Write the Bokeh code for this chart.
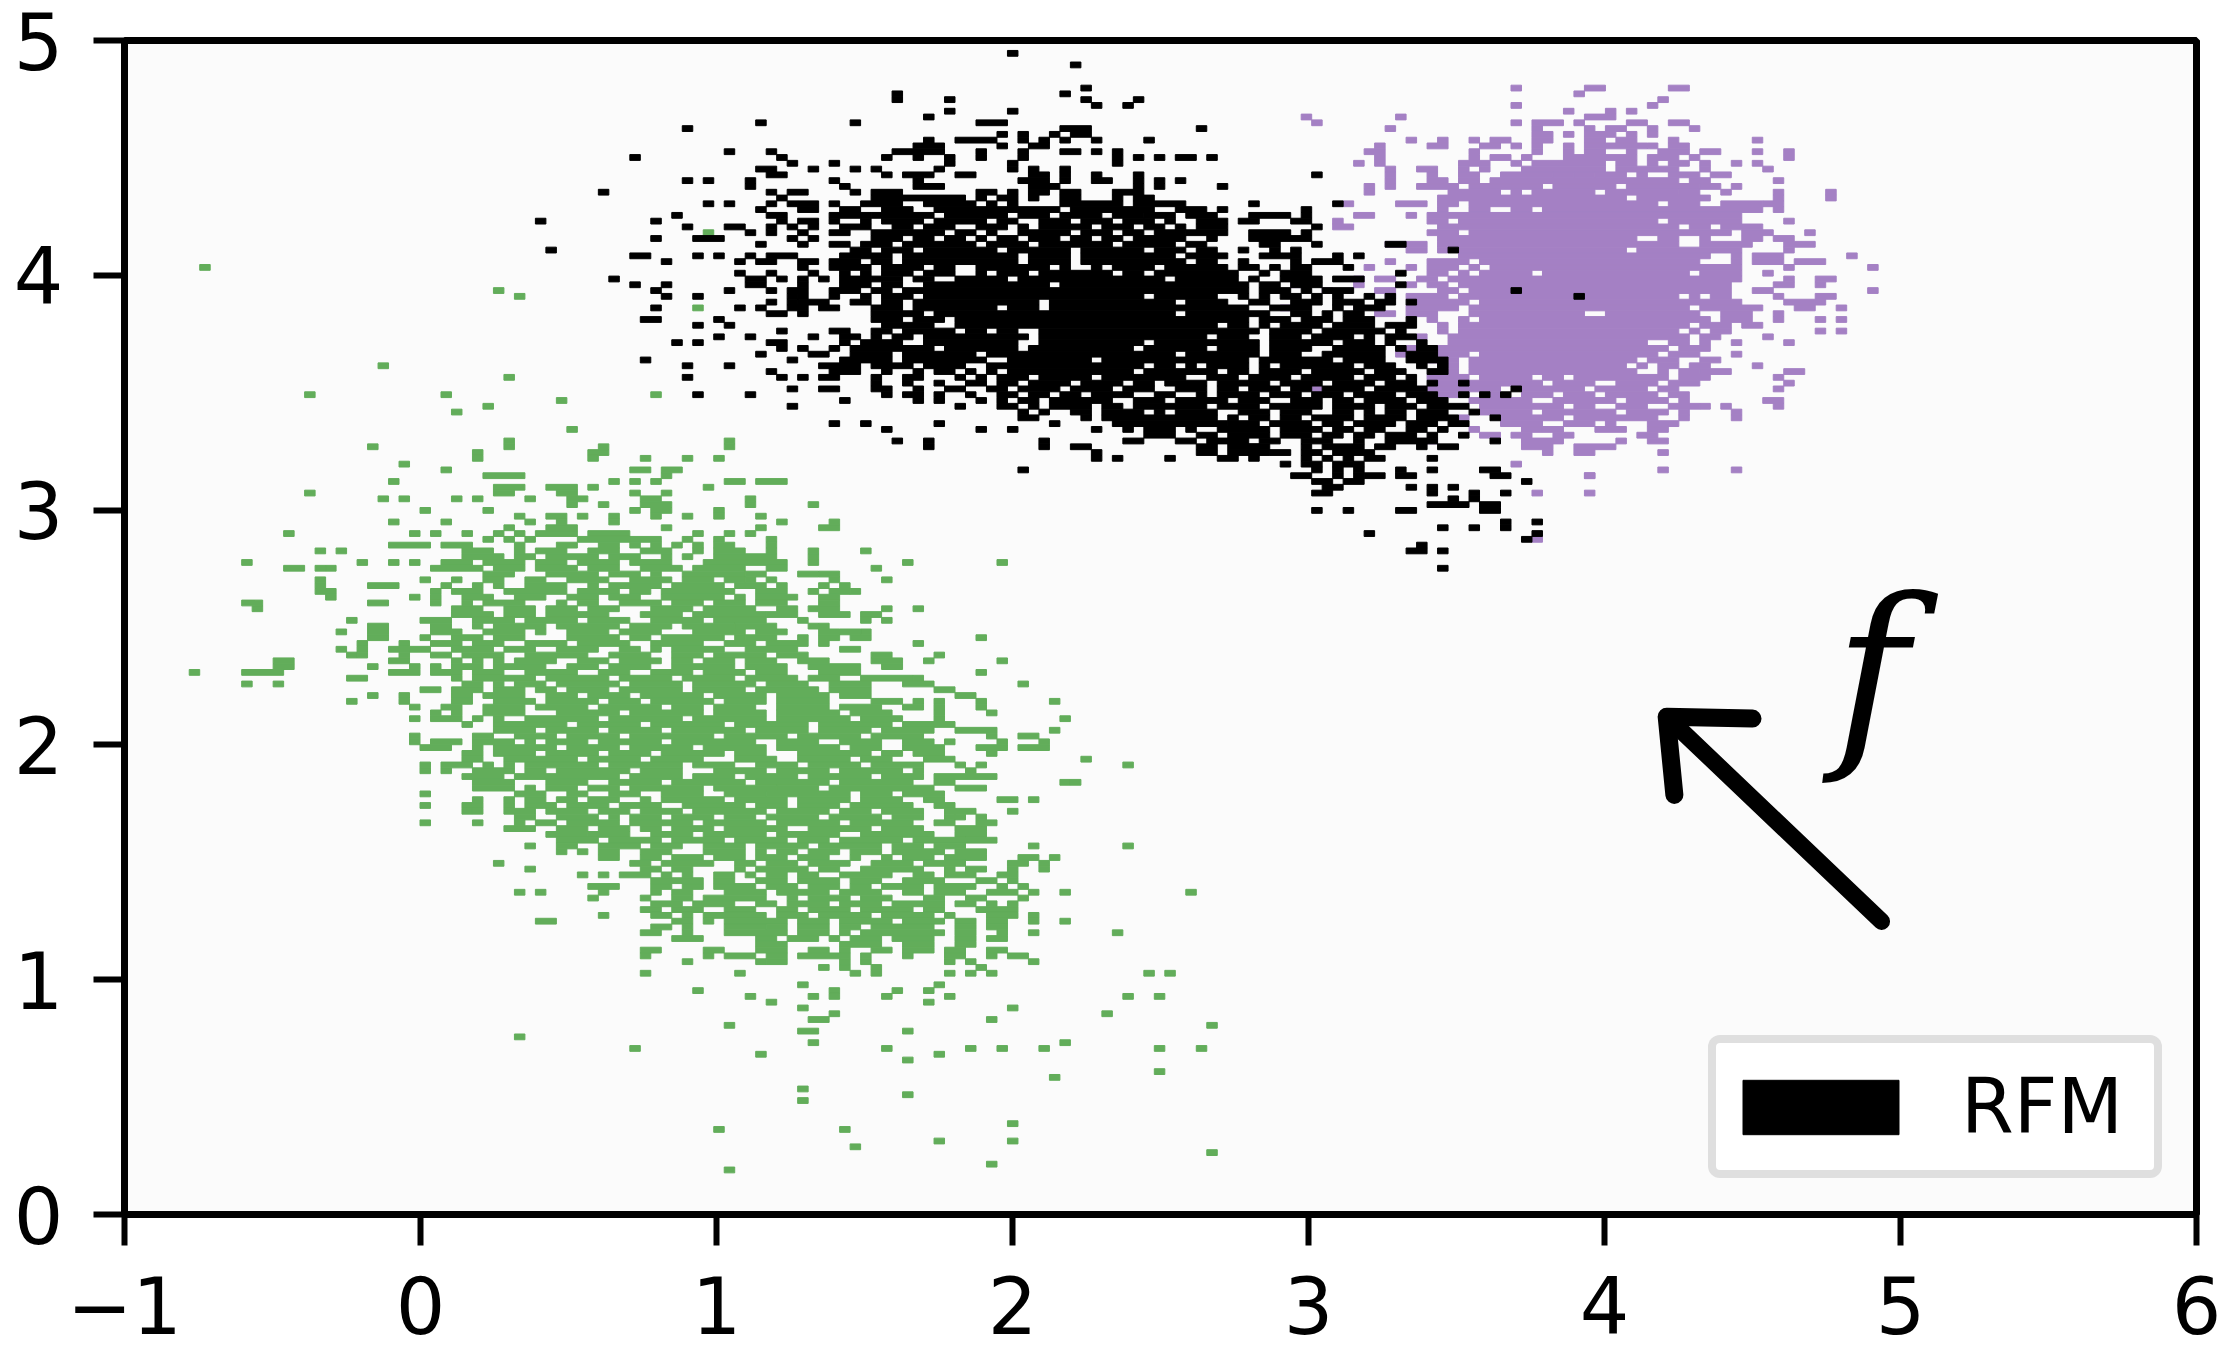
from bokeh.plotting import figure
from bokeh.embed import file_html
from bokeh.resources import INLINE
from bokeh.models import Range1d, FixedTicker, Legend, LegendItem
from bokeh.core.properties import value

X_TICKS = [-1, 0, 1, 2, 3, 4, 5, 6]
Y_TICKS = [0, 1, 2, 3, 4, 5]
LEGEND_LABEL = "RFM"
ARROW_X = [4.936, 4.21]
ARROW_Y = [1.248, 2.12]
ARROW_HEAD_X = [4.5, 4.21, 4.236]
ARROW_HEAD_Y = [2.112, 2.12, 1.787]

# Histogram bin size
BIN_W = 0.03544
BIN_H = 0.02464

# Filled cells, row index -> column runs
GREEN_ROWS = {
163:"7",169:"55",159:"35",158:"37",156:"54",146:"24",144:"36",141:"17 30 50",140:"41",139:"34",138:"31",135:"42",
133:"36 57",132:"23 36 45 57",131:"33 44-45",130:"33 44 49 53 56",129:"26",128:"30 48-49 51-52",127:"34-37 51",
126:"25 46 48 50 57-58 60-62",125:"35-37 40-42 44 55",124:"17 35-36 41-42 48 51",123:"24 26 31 33 38 42-43 49-50 59",
122:"42 45 49-51 59 65",121:"28 34 48 50-51 56",120:"37 40-41 43 46 50 53 56 60",119:"25 30 38 41 46 62 67",118:"36 40-42 51 60 66-67",
117:"15 27 29 32 35 37 39-42 44-47 54 57 59",116:"34 36 38 43-47 48-50 53 56 61",115:"25-28 30-32 37 41-42 45-46 48 50 52 54 56-57 61",
114:"18 20 32-34 37 39-41 44-46 49-51 54 56-58 61 65 70",113:"32-35 37-38 40-44 46-48 51 53 56-61 65",112:"11 22 25 27 30-32 34-37 39-41 43-46 48-51 55-62 65 74 83",
111:"15-16 18 19 29-33 35-37 39-42 44-46 49-52 54-58 61-62 71",110:"34-36 40-44 46-48 50 53-58 59-60 64-65 66-67",
109:"18 28 31 34-35 38-39 42-45 48-51 53-55 57-58 59 61 67 72",108:"18 23-25 30 33 35 38-41 44 46-50 52-56 58-60 62 66 68 ",
107:"18-19 29 31-33 36-41 43-46 48-49 51-57 60-62 65 67-68 69",106:"19 27 29 32-34 37-39 42-44 46-48 51-56 58 60-63 66-67",
105:"11-12 23-24 29 32 34-37 41 43-44 47-50 52-54 56-58 60-62 66-67",104:"12 31-33 36-38 40-42 44-46 50-53 55-59 62-63 65-67 72 75",
103:"31-34 36-38 40-45 49-52 54-60 61-63 66-68 70-71",102:"21 28-30 33-36 38-42 44-47 50-54 56-60 64 70 72",
101:"23-24 29-30 33 35-39 41-46 48-51 53-57 58-61 65 66",100:"20 23-24 29-31 34-37 39 42-45 47-50 54-58 60-62 66-67 70 68-69",
99:"23-24 28 31-33 35-37 42-46 48-49 51-56 58 59-61 64 66-67 69-70 81",98:"22 26 29-31 33-35 38-41 43-47 50 51-54 57-59 61-64 66 75",
97:"20 22 25-28 31-34 36-38 41-44 47-48 50 52-56 59-63 68-69",96:"21 22 26 29-30 32-35 38-43 46-49 52-54 56-60 62-64 71-72 77",
95:"14-15 25-26 31 33 35 37-40 43-45 47-50 52-53 55-57 59-61 64-66 71-73 76 83",94:"14-15 23 27 29 31-33 35-39 42-44 46-49 52-57 59-62 65-69 72-73",
93:"6 11-14 25-27 29-31 33-35 38-42 45-47 50-53 55-58 60-62 66-69 81",92:"21-22 31 33-38 40-45 47-51 53-57 59-63 65-67 70-74 75 ",
91:"11 14 32-33 35 37-39 41-46 48-52 54-59 61-64 67-70 74-76 85",90:"28-29 31-33 35-37 39-40 42-45 47-52 54-58 60-65 67-70 77-78",
89:"23 26 31-32 34-37 40-42 44-47 49-54 56-60 62-66 68-70 79-80",88:"21 26 31-32 35-38 40-44 46-48 50-55 57-60 62-66 71-73 75 77 81 88",
87:"27 30-31 34-37 39-43 45-50 52-54 56-59 62-66 68-71 74-75 77 81",86:"29 31 34-37 41-46 48-54 56-60 62-67 69-72 77 82",
85:"27 29-31 33 35 38-44 46-52 54-60 62-68 70-73 77 89",84:"32 35-41 43-48 50-56 58-64 66-72 74-78 ",
83:"35-38 40-44 46-50 52-58 60-64 66-70 72-76 79-82 88",82:"27 33-34 37-40 42-46 48-55 57-62 64-69 71-75 82 85-86",
81:"27 29-31 33-36 38 40-43 45-50 52-59 62-65 68-71 74-76 78 83 87",80:"28-30 33 35-40 42-46 48-53 55-60 62-67 69-71 74-77 81-83 85-87",
79:"32-33 35-38 40-44 46-49 51-56 58-60 64-70 72-73 75-77 82",78:"32-33 36-42 44-48 50-54 58-61 64-68 70-72 76-78 91",
77:"28 30-32 34 36 38-44 46-52 54-57 60-63 65-69 71-75 79 81 95",76:"28 30 33-36 38-39 41-47 49-52 56-60 62-66 68-73 75 80",
75:"32-35 37-46 48-52 54-57 59-63 65-70 72-75 77-82",74:"33-36 40-43 46-50 52-58 60-66 68-74 77-78 89 90",73:"33-36 38 40-42 44-46 48-54 56-61 62-65 67-76 79-81",
72:"28 37-39 42-43 46-48 51-54 57-60 61-68 70-72 74-77",71:"33 36 38-39 41-42 44-46 49 51-56 58-62 64-68 70-73 76-77 83-84 86",
70:"28 32-33 36 38-40 42-45 47-50 53-58 60-62 64-67 69-74 77-78",69:"32 33 36-38 40-43 45-47 49-52 54-60 62-66 68-70 72-75 78 79-80 84",
68:"37-38 41-44 46 48-50 52-55 57-59 61-65 67-71 73-75 78 79 81",67:"28 33 37 39-40 42-46 48-53 55-60 62-67 69-74 77-78 81-82",
66:"36-38 41-43 45-47 49-50 52-55 57-62 65-70 72-75 79-81",65:"40-43 44-47 50-53 55-60 62-67 70-76 79-81",64:"41-44 46-50 52-56 58-62 64-66 68-73 75-79 80-82",
63:"38 41-42 45-48 50-52 55-58 60-64 66-71 73-75 77-79 86 95",62:"41 43 45-46 49-51 55-58 60 62-63 65-67 69-71 73-77 79 80-81",
61:"45-46 49-50 52-54 56-58 60-62 64-66 69 72 74-76 78-81 85-86 88",60:"35 48-49 51 52-55 58-59 61-63 65-68 71-74 76-79 84-85 87",
59:"38 49-50 52-53 58 60-64 66-67 70-75 78 80-81 84 87",58:"43 45 47-49 51 53 56-57 59 61-62 64-65 68-72 75-76 78-80 83-84",
57:"50-54 56-57 60-62 64-67 69-71 74-77 81-82 84",56:"44-46 50-51 53-54 56-59 61-63 65-67 69-70 72-75 77-80 83 85",
55:"37 39 45 50 52-53 57-60 62-66 68-71 74-75 77-79 82-84 86 89 101",54:"44 49 52-53 55-60 63 65-68 70-72 76-77 80-81 85",
53:"50-52 54-57 60-61 63-66 68-71 73-77 79-80 82 84",52:"49-50 52-54 57-59 62-63 65-68 70-74 76-77 81-84",
51:"45 50-51 53 55-60 62-64 66-70 72-76 78 82-84 86",50:"39-40 52-53 55 57-62 64-66 68-72 74-77 79-80 82-83 86 89",
49:"50-51 53 57-60 61-62 64-66 68-69 71-76 79-80 82-83",48:"49-50 53 57-62 64-66 68 70-76 77 79-80 83 86 94",
47:"52-54 60-61 63-65 67 69-71 73-76 79-80 82-83",46:"60-62 68-71 74-76 79-80",45:"49-50 55-56 60-62 65-66 68 71-72 74-76 78-79 82-83",
44:"49 55 57-59 61-62 64-68 70 74 78-79 82 84-85",43:"53 60 61-62 68 70 78 80 86",42:"66 68 71 81",41:"49 58 69 71 78 80 82 97 99",
39:"64 77",38:"54 67 73 76",37:"59 65 67 72 78 95 98",36:"61 76",35:"64 84",34:"67 93",33:"65-66 82",32:"57 103",31:"64-65 74",30:"37",29:"65 89",
28:"48 72 80 83 87 98 102",27:"60 77",26:"74",24:"98",23:"88",21:"64",20:"74",19:"64",15:"84",14:"56 68",12:"77 84",11:"69",10:"103",8:"82",7:"57",
}
PURPLE_ROWS = {
194:"132 139-140 147-148",193:"138",192:"146",191:"132 145",190:"137 141 143",189:"112 121 139-141",188:"113 132 134-136 138 143-144 147-148",
187:"120 134 139 141-142 145 149",186:"134-135 137 139-141 143 145",185:"122 125 128 130-131 134-135 139-140 142-143 147 155",
184:"119 124-125 129-130 132 134 137 139-140 141-144 145 147-148",183:"118-119 128 134 137 139-140 143 146-148 150-151 155 158",
182:"119 128 130-131 133 137-140 141-143 145-147 149 158",181:"117 119 127-129 132 134-140 142-143 145 147-148 150 153 155",
180:"120 123-124 127 129 133-140 142-147 150 156",179:"120 124 127-128 131-135 136-137 138-139 140-142 144 147-149 151-152",
178:"120 124-125 127-128 130-147 149-150 157",177:"118 120 123-126 128-134 136-141 143-149 150-151 153",176:"118 126-130 132 134-139 141-147 148-149 152 157 162",
175:"125-142 144-146 147-150 157 162",174:"116 121-123 125-126 128-145 147-149 152-155 156-157",173:"125 128-129 132-133 135-155 157",172:"117-118 122 124-153",
171:"115 124-125 127-145 147-153 158",170:"115-116 125-147 149-150 152-155",169:"124-126 128-152 154-156 160",168:"125-143 146-147 150 154-155 157-158",
167:"120-123 125-147 150-154 158-160",166:"122-123 125 127-142 144-153 158",165:"127-150 153 155-157 164",164:"120 124-127 129-149 153 155-157 159-161",
163:"118 122 124-126 128 130-153 158 166",162:"124-125 127 129-133 135-148 150-153 156",161:"117 119-120 123-124 126-153 158 161-162",160:"111 117 122 124-125 127-152 157-158 161",
159:"114 119-120 125-126 128-152 155-156 166",158:"120 122-125 127-147 149 151-152 157 161-162",157:"123-127 129-153 158-161",156:"110 117 122-126 128-148 150-155 159-160 163",
155:"119-120 122-124 128-138 141-149 152-154 157",154:"124 127 129-150 152-154 157 161 163",153:"125 127-148 150-152 154-155",152:"125 127-147 149 151-152 161 163",
151:"123 126-148 150-151 156",150:"126-144 147-148 150 153 158",149:"121-122 125-146 148 149-150",148:"121-122 125-127 129-145 147-149 153",
147:"124 126 128-143 145-147 150-151",146:"125-126 128-142 144 146-147 149-150 155",145:"125-126 128-143 146 148-149 150-152 158-159",144:"124-127 129-133 135-136 138-146 148-150 157",
143:"125-134 136-139 142-145 147-149 158",142:"113 124-130 133-138 140-144 146-147 157",141:"125-127 129-130 133-135 137-139 141-145 147-148",140:"124 128-133 136-141 143-146 148 156-157",
139:"129-136 138-139 142-144 147-149 150 152 157",138:"129-133 135-141 143-146 148 153",137:"127 131-136 138-145 148 153",136:"131-134 137-139 141 145-147",
135:"128 133-134 135-136 140-142 145-146",134:"129-130 132-133 136-137 144-145",133:"124 133-136 142 145-146",132:"133-135 138-141",131:"135 138-139 146",
129:"132",128:"146 153 ",127:"139 139",124:"134 139",116:"134",
}
BLACK_ROWS = {
200:"84",198:"90",194:"91",193:"73 89",192:"73 78 91 96",191:"92 95",190:"78 84",189:"76",188:"60 69 81-83",187:"53 89-91 102",186:"83 85 88 90-91",
185:"76 79-82 85 87 89 92 97",184:"75-77 83 86-87",183:"57 61 73-77 81 85 89-90 92 94",182:"48 62 72 75 78 81 85 94 96 98 100-101 103",181:"63 67 78 84 94",
180:"60-61 65 69 71 77 84 86 89",179:"61-62 72 74-76 79-80 86-87 89 92 96 113",178:"53 55 59 67 75 85-87 89 92-93 96 98 100",177:"59 68 75-77 86-87 88 96 98 104",
176:"45 61 63-64 69 71-73 81-82 84 86-87 89-90 94-96",175:"62 71-79 81 83-84 86 89-90 94 96-97",174:"55 57 61 63 64-65 67 70-73 76-80 82 84 89-94 96-100 107 115",
173:"60 64-65 68-69 72-74 77-84 85-88 90-97 100-102 104 112",172:"52 61-62 67-70 71-76 78-83 85-87 89-92 94-96 97-99 101-103 107-110 112",
171:"39 50 62 64-65 67 70 72-75 77-81 83-84 87-89 91-93 95-97 99 102-104 106-107 111-112",170:"53 57-58 61 63 65 68-70 73-74 76-78 81-83 85 87-91 93-95 97-98 100 102-104 113",
169:"59 61 64 67-68 71-77 79-80 82 85-89 91-93 95-96 98-100 101-104 107-110 112",168:"50 54-56 63 65 71-73 75-76 78-79 81 83-84 86-88 90-91 93-94 96-100 103 107-112",
167:"60 64 67-68 70-72 74-80 82-85 87-89 90-93 95-99 101-102 108-109 113 120-121",166:"40 69-70 72-74 76-82 84-89 91-96 98-100 102-103 106 109 111 126",
165:"48-49 54 56 59 61-63 68-72 74-84 86-89 91-99 101-104 108-111 115 117",164:"51 58 60-61 64-65 67-69 71-72 74-84 86-89 91-100 102-103 106 111 113-115",
163:"64 67-70 72-75 77-78 81-87 89 92 94-97 99-104 106-107 109 111-112 116",162:"58 61 65 68 70 72-74 76-78 81 83-85 87-93 95-96 98-105 108 110-112 121",
161:"46 59-60 62 64 66 68-70 71-73 75-76 79-83 85-98 100-105 107 110-113 115-117",160:"48 51 59-60 64 68-70 72-73 76-87 89-106 108-109 111-113 121",
159:"50 57 61 63-64 67-69 71-72 74-106 108-110 112 114-116 132",158:"51 54 63 64 67 70 72-74 76-96 98-103 106 108 110-111 113 115 118 120 138",
157:"61 63 64-66 69-70 72-73 75-86 88-99 101-104 107-108 111-113 115-117 119-120 122",156:"50 58 60 63-64 66-67 71-73 75-82 84-86 88-106 109-112 115 117-119",
155:"61-62 64 71-75 77-99 101-108 111-112 114 116-117",154:"49-50 56 71-73 75-77 79-106 108-110 112-114 116-118 122",
153:"54 57 72-76 79-103 105-106 108 110-113 115-118 120-122",152:"62 67-68 71-72 74-78 80-81 83-84 87-107 109-112 114-119 121",
151:"56 59 65 68-69 71 73-74 76-85 87-102 104-106 109-111 113-116 118 120-122",150:"52 54 61-62 68 70-73 76-84 87-96 98-107 109-114 116-118 120 123",
149:"62 64 67 69-76 78-84 86-95 97-102 104-107 109-112 115-119 121 123-124",148:"60 65-66 69-72 74-80 82-99 101-107 109-111 114-119 122-124",
147:"49 63 68-72 74-81 84-91 93-106 108-114 116-119 122-125",146:"53 57 66-69 71-74 76-79 82-96 98-99 101 103-106 108 110-116 118-120 123 125",
145:"61 67-69 72 75 77-78 80 82 84-95 97-103 105-106 108-111 113-117 119-121 124-125",144:"53 62 64 66-67 71 74-75 79 81 83-85 87-91 93-100 103-105 107-110 112-116 118-120 122",
143:"71 74 77 80-81 83-84 86-89 91-94 96-97 99-102 104-106 107-108 110-113 115-118 120-122 124 127",142:"63 66-67 71-72 75 78-79 82-83 85-88 90-93 95-97 100-102 104-105 107-109 111-112 114-117 119-123 132",
141:"54 59 72 74-75 77 80 83-84 86-87 89-90 92-95 98-99 102 104-107 109-111 113-115 117-120 122-124 127 129 131",140:"68 75 77 81 83 85-86 88-93 96-98 100-104 106-108 111-113 115-116 118-121 123-125",
139:"63 79 83-84 86 88-91 93-94 96-102 104-107 109-113 115-118 120-122 124-127",138:"85 87 90-91 93-96 98 100-103 106-108 110-112 115-116 118 120-121 123-125 128",
137:"85-86 91 93-103 105 107-108 110-111 113-116 118-121 123-126 130",136:"67 70 77 88 94-104 105-107 109-112 114-115 117-120 122-124 126-127",
135:"72 81 84 92 95 97-99 101 104-108 110-113 115-116 118-119 122-123 125",134:"97-99 102-103 105-108 110-112 114-115 117-118 120-122 124 127",
133:"73 76 87 95-96 100-101 103-106 108-109 112-114 117 120-123 124 130",132:"76 87 90-91 102-103 105-107 107-108 112 114-117 119-120 123 125-126",
131:"92 102-103 105-108 107 109-110 112-113 115-118",130:"92 94 99 104-105 107 112 114 116 118-119 124",129:"110 112-113 115-116 117",
128:"85 113 115 117 121 124 129-130",127:"111-112 115 117 118-119 121-122 130-131",126:"113-114 116-117 133",125:"114-115 122 124 126",124:"113-114 124 128 131",
123:"126 128",122:"124-127 129-130",121:"113 116 121-122 129-130",119:"131 134",118:"125 128 131",117:"118 134",116:"133",115:"123",114:"122-123 125",111:"125",
}


def cells(rows):
    left, right, bottom, top = [], [], [], []
    for row, text in rows.items():
        for run in text.split():
            a, _, b = run.partition("-")
            first, last = int(a), int(b or a)
            left.append(-1 + (first + 0.17) * BIN_W)
            right.append(-1 + (last + 1.17) * BIN_W)
            bottom.append((row + 0.2) * BIN_H)
            top.append((row + 1.2) * BIN_H)
    return dict(left=left, right=right, bottom=bottom, top=top)


p = figure(width=2222, height=1356, x_range=Range1d(-1, 6), y_range=Range1d(0, 5),
           output_backend="svg", toolbar_location=None,
           min_border_left=124, min_border_right=26, min_border_top=40, min_border_bottom=142,
           background_fill_color="#fbfbfb", border_fill_color="white")
p.grid.visible = False
p.outline_line_color = "black"
p.outline_line_width = 7

for ax, ticks in ((p.xaxis[0], X_TICKS), (p.yaxis[0], Y_TICKS)):
    ax.ticker = FixedTicker(ticks=ticks)
    ax.axis_line_color = "black"
    ax.axis_line_width = 7
    ax.major_tick_line_color = "black"
    ax.major_tick_line_width = 6
    ax.major_tick_in = 0
    ax.major_tick_out = 31
    ax.minor_tick_line_color = None
    ax.major_label_text_font = "DejaVu Sans"
    ax.major_label_text_font_size = "78px"
    ax.major_label_text_color = "black"
    ax.major_label_standoff = 30
p.xaxis[0].major_label_overrides = {-1: "\u22121"}

style = dict(line_width=1)
p.quad(source=cells(GREEN_ROWS), left="left", right="right", bottom="bottom", top="top",
       fill_color="#62ad5a", line_color="#62ad5a", **style)
p.quad(source=cells(PURPLE_ROWS), left="left", right="right", bottom="bottom", top="top",
       fill_color="#a480c4", line_color="#a480c4", **style)
black = p.quad(source=cells(BLACK_ROWS), left="left", right="right", bottom="bottom", top="top",
               fill_color="black", line_color="black", **style)

p.line(ARROW_X, ARROW_Y, line_color="black", line_width=17, line_cap="round")
p.line(ARROW_HEAD_X, ARROW_HEAD_Y, line_color="black", line_width=18, line_cap="round", line_join="round")
p.text([4.902], [2.313], text=["\U0001D453"], text_font=value("DejaVu Serif"),
       text_font_size="200px", text_align="center", text_baseline="alphabetic", text_color="black")

legend = Legend(items=[LegendItem(label=LEGEND_LABEL, renderers=[black])], location=(1584, 36),
                glyph_width=195, glyph_height=68, label_standoff=43, padding=7, margin=0,
                label_width=186, label_height=113,
                label_text_font="DejaVu Sans", label_text_font_size="76px", label_text_color="black",
                border_line_color="#c0c0c0", border_line_width=8, background_fill_color="white",
                background_fill_alpha=1)
if hasattr(legend, "border_radius"):
    legend.border_radius = 12
p.add_layout(legend)

open("out.html", "w").write(file_html(p, INLINE))
